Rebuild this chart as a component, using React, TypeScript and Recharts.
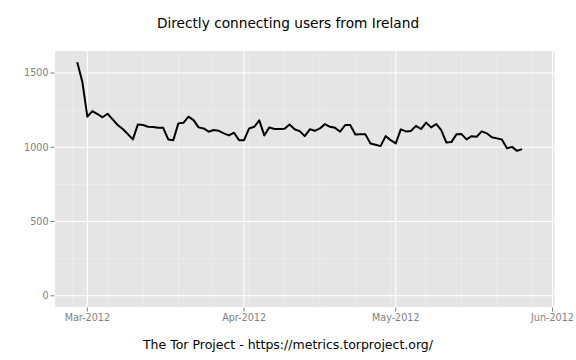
import React from "react"
import { CartesianGrid, Line, LineChart, XAxis, YAxis } from "recharts"

// daily values, first day is 2012-02-28
const startDate = "2012-02-28"
const users = [
  1573, 1442, 1206, 1244, 1224, 1202, 1226, 1188, 1150, 1123, 1089, 1053, 1154,
  1150, 1138, 1136, 1131, 1131, 1053, 1048, 1161, 1165, 1206, 1183, 1134, 1127,
  1105, 1116, 1111, 1094, 1080, 1098, 1048, 1048, 1127, 1138, 1181, 1080, 1134,
  1123, 1123, 1125, 1154, 1121, 1109, 1075, 1121, 1111, 1127, 1156, 1138, 1131,
  1105, 1150, 1150, 1086, 1087, 1087, 1026, 1017, 1008, 1075, 1048, 1026, 1121,
  1107, 1110, 1144, 1123, 1166, 1134, 1157, 1116, 1033, 1035, 1087, 1089, 1053,
  1075, 1071, 1107, 1094, 1067, 1060, 1053, 993, 1003, 976, 988,
]

const monthTicks = ["2012-03-01", "2012-04-01", "2012-05-01", "2012-06-01"]
const monthLabels = ["Mar-2012", "Apr-2012", "May-2012", "Jun-2012"]
const weekLines = [
  "2012-02-27", "2012-03-05", "2012-03-12", "2012-03-19", "2012-03-26",
  "2012-04-02", "2012-04-09", "2012-04-16", "2012-04-23", "2012-04-30",
  "2012-05-07", "2012-05-14", "2012-05-21", "2012-05-28",
]
const yTicks = [0, 500, 1000, 1500]
const yMinor = [250, 750, 1250]

const DAY = 86400000
const origin = Date.parse("2012-03-01")
const toDay = (s: string) => Math.round((Date.parse(s) - origin) / DAY)

const start = toDay(startDate)
const data = users.map((u, i) => ({ day: start + i, users: u }))
const xTicks = monthTicks.map(toDay)

const FONT = "'DejaVu Sans', sans-serif"
const tickStyle = { fontSize: 9.6, fill: "#7F7F7F", fontFamily: FONT }

export default function App() {
  return (
    <div style={{ position: "absolute", left: 0, top: 0, width: 576, height: 360, background: "#fff", fontFamily: FONT }}>
      <div style={{ position: "absolute", top: 13, left: 0, width: 576, textAlign: "center", fontSize: 13.7, lineHeight: "20px", color: "#000" }}>
        Directly connecting users from Ireland
      </div>
      <LineChart width={576} height={360} data={data} margin={{ top: 50.5, right: 21, bottom: 0, left: 0 }}>
        {/* minor grid */}
        <CartesianGrid
          fill="#E5E5E5"
          fillOpacity={1}
          stroke="#F2F2F2"
          strokeWidth={0.55}
          horizontalValues={yMinor}
          verticalValues={weekLines.map(toDay)}
        />
        {/* major grid */}
        <CartesianGrid stroke="#FFFFFF" strokeWidth={1.1} />
        <XAxis
          dataKey="day"
          type="number"
          domain={[-6.5, 92.5]}
          ticks={xTicks}
          tickFormatter={(v: number) => monthLabels[xTicks.indexOf(v)]}
          height={52.5}
          axisLine={false}
          tickSize={4}
          tickMargin={3}
          tickLine={{ stroke: "#7F7F7F" }}
          tick={tickStyle}
          interval={0}
        />
        <YAxis
          type="number"
          domain={[-78.65, 1651.65]}
          ticks={yTicks}
          width={54.5}
          axisLine={false}
          tickSize={4}
          tickMargin={2}
          tickLine={{ stroke: "#7F7F7F" }}
          tick={tickStyle}
          interval={0}
        />
        <Line
          type="linear"
          dataKey="users"
          stroke="#000"
          strokeWidth={2}
          strokeLinejoin="round"
          dot={false}
          isAnimationActive={false}
        />
      </LineChart>
      <div style={{ position: "absolute", top: 337, left: 0, width: 576, textAlign: "center", fontSize: 12.5, lineHeight: "16px", color: "#000" }}>
        The Tor Project - https://metrics.torproject.org/
      </div>
    </div>
  )
}
